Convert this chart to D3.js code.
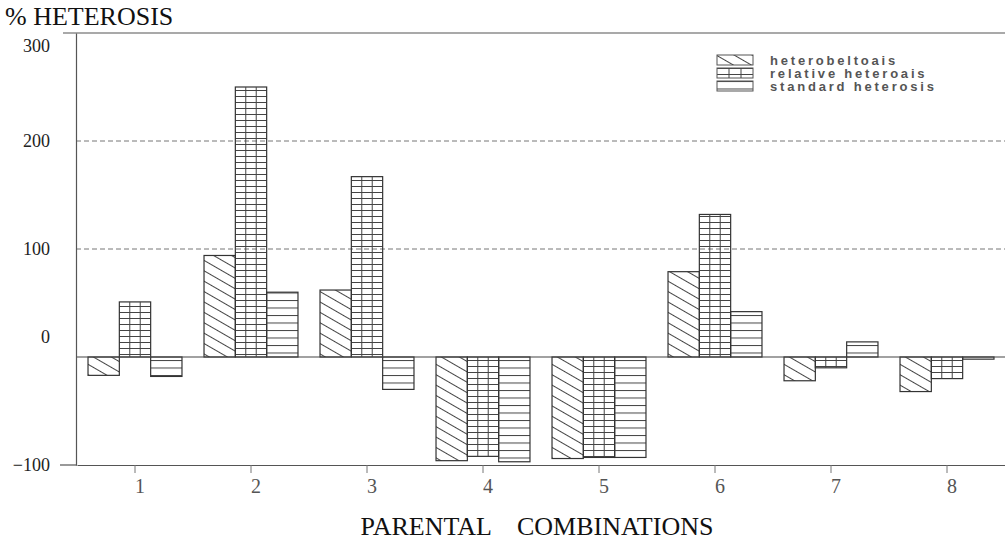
<!DOCTYPE html>
<html>
<head>
<meta charset="utf-8">
<script src="https://cdn.jsdelivr.net/npm/d3@7"></script>
<style>
  body { margin: 0; background: #fff; }
  svg { display: block; }
</style>
</head>
<body>
<div id="root"></div>
<script>
// Chart data
const categories = ["1", "2", "3", "4", "5", "6", "7", "8"];
const heterobeltiosis = [-17, 94, 62, -96, -94, 79, -22, -32];
const relativeHeterosis = [51, 250, 167, -92, -93, 132, -10, -20];
const standardHeterosis = [-18, 60, -30, -97, -93, 42, 14, -2];
const seriesNames = ["heterobeltoais", "relative heteroais", "standard heterosis"];
const yTicks = [300, 200, 100, 0, -100];
const gridTicks = [200, 100];

// Size of the chart
const width = 1005;
const height = 540;

const svg = d3
  .select("#root")
  .append("svg")
  .attr("width", width)
  .attr("height", height);

// Hatch patterns
const defs = svg.append("defs");
const ink = "#444";

defs.append("pattern")
  .attr("id", "diag")
  .attr("patternUnits", "userSpaceOnUse")
  .attr("width", 20)
  .attr("height", 9)
  .attr("patternTransform", "rotate(30)")
  .append("line")
  .attr("x1", 0).attr("y1", 0.5).attr("x2", 20).attr("y2", 0.5)
  .attr("stroke", ink).attr("stroke-width", 1);

function hPattern(id, gap) {
  defs.append("pattern")
    .attr("id", id)
    .attr("patternUnits", "userSpaceOnUse")
    .attr("width", 10)
    .attr("height", gap)
    .append("line")
    .attr("x1", 0).attr("y1", 0.5).attr("x2", 10).attr("y2", 0.5)
    .attr("stroke", ink).attr("stroke-width", 1);
}
hPattern("hdense", 6);
hPattern("hloose", 7.5);

const fills = ["url(#diag)", "url(#hdense)", "url(#hloose)"];

// Scales
const x = d3.scaleBand()
  .domain(categories)
  .range([77, 1005])
  .paddingInner(0.19)
  .paddingOuter(0.095);

const xSub = d3.scaleBand()
  .domain(seriesNames)
  .range([0, x.bandwidth()]);

const y = d3.scaleLinear()
  .domain([-100, 300])
  .range([465, 33]);

const serif = "'Liberation Serif', 'Times New Roman', serif";

// Dashed grid lines
svg.append("g")
  .selectAll("line")
  .data(gridTicks)
  .enter()
  .append("line")
  .attr("x1", 76)
  .attr("x2", width)
  .attr("y1", d => y(d))
  .attr("y2", d => y(d))
  .attr("stroke", "#777")
  .attr("stroke-width", 1)
  .attr("stroke-dasharray", "5,3");

// Bars
const rows = categories.map((c, i) => ({
  cat: c,
  values: [heterobeltiosis[i], relativeHeterosis[i], standardHeterosis[i]]
}));

const groups = svg.append("g")
  .selectAll("g")
  .data(rows)
  .enter()
  .append("g")
  .attr("transform", d => "translate(" + x(d.cat) + ",0)");

groups.selectAll("rect")
  .data(d => d.values.map((v, k) => ({ v: v, k: k })))
  .enter()
  .append("rect")
  .attr("x", d => xSub(seriesNames[d.k]))
  .attr("width", xSub.bandwidth())
  .attr("y", d => y(Math.max(0, d.v)))
  .attr("height", d => Math.abs(y(d.v) - y(0)))
  .attr("fill", d => fills[d.k])
  .attr("stroke", "#333")
  .attr("stroke-width", 1.2);

// Vertical dividers of the relative heterosis bars
groups.each(function(d) {
  const v = d.values[1];
  const x0 = xSub(seriesNames[1]);
  const w = xSub.bandwidth();
  d3.select(this)
    .selectAll("line.div")
    .data([1 / 3, 2 / 3])
    .enter()
    .append("line")
    .attr("class", "div")
    .attr("x1", f => x0 + w * f)
    .attr("x2", f => x0 + w * f)
    .attr("y1", y(Math.max(0, v)))
    .attr("y2", y(Math.min(0, v)))
    .attr("stroke", ink)
    .attr("stroke-width", 1);
});

// Zero line
svg.append("line")
  .attr("x1", 76).attr("x2", width)
  .attr("y1", y(0)).attr("y2", y(0))
  .attr("stroke", "#444").attr("stroke-width", 1.2);

// Frame line at the top
svg.append("line")
  .attr("x1", 63).attr("x2", width)
  .attr("y1", y(300)).attr("y2", y(300))
  .attr("stroke", "#555").attr("stroke-width", 1.2);

// Y axis
const yAxis = d3.axisLeft(y).tickValues(yTicks).tickSize(0).tickPadding(26);
const gy = svg.append("g")
  .attr("transform", "translate(76,0)")
  .call(yAxis);
gy.select(".domain").attr("stroke", "#555").attr("stroke-width", 1.2);
gy.selectAll("text")
  .attr("font-family", serif)
  .attr("font-size", 18)
  .attr("fill", "#222")
  .attr("dy", d => d === 300 ? "1.05em" : d === 0 ? "-0.8em" : "0.32em");

// X axis
const xAxis = d3.axisBottom(x).tickSize(8).tickSizeOuter(0).tickPadding(6);
const gx = svg.append("g")
  .attr("transform", "translate(0," + y(-100) + ")")
  .call(xAxis);
gx.select(".domain").attr("stroke", "#555").attr("stroke-width", 1.2);
gx.append("line")
  .attr("x1", 60).attr("x2", 77)
  .attr("stroke", "#555").attr("stroke-width", 1.2);
gx.selectAll(".tick line").attr("stroke", "#777");
gx.selectAll(".tick text")
  .attr("font-family", serif)
  .attr("font-size", 20)
  .attr("fill", "#555")
  .attr("dx", 5);

// Axis titles
svg.append("text")
  .attr("x", 5)
  .attr("y", 25)
  .attr("font-family", serif)
  .attr("font-size", 26)
  .attr("fill", "#111")
  .text("% HETEROSIS");

svg.append("text")
  .attr("x", 537)
  .attr("y", 535)
  .attr("text-anchor", "middle")
  .attr("font-family", serif)
  .attr("font-size", 26)
  .attr("fill", "#111")
  .attr("xml:space", "preserve")
  .style("white-space", "pre")
  .text("PARENTAL    COMBINATIONS");

// Legend
const legend = svg.append("g")
  .attr("transform", "translate(717,55)");

const item = legend.selectAll("g")
  .data(seriesNames)
  .enter()
  .append("g")
  .attr("transform", (d, i) => "translate(0," + i * 13 + ")");

item.append("rect")
  .attr("width", 36)
  .attr("height", 10)
  .attr("fill", (d, i) => fills[i])
  .attr("stroke", "#555")
  .attr("stroke-width", 1);

item.filter((d, i) => i === 1)
  .selectAll("line")
  .data([1 / 3, 2 / 3])
  .enter()
  .append("line")
  .attr("x1", f => 36 * f).attr("x2", f => 36 * f)
  .attr("y1", 0).attr("y2", 10)
  .attr("stroke", ink);

item.append("text")
  .attr("x", 53)
  .attr("y", 10)
  .attr("font-family", "'Liberation Sans', Arial, sans-serif")
  .attr("font-weight", "bold")
  .attr("font-size", 13)
  .attr("letter-spacing", "2.8px")
  .attr("fill", "#555")
  .text(d => d);
</script>
</body>
</html>
